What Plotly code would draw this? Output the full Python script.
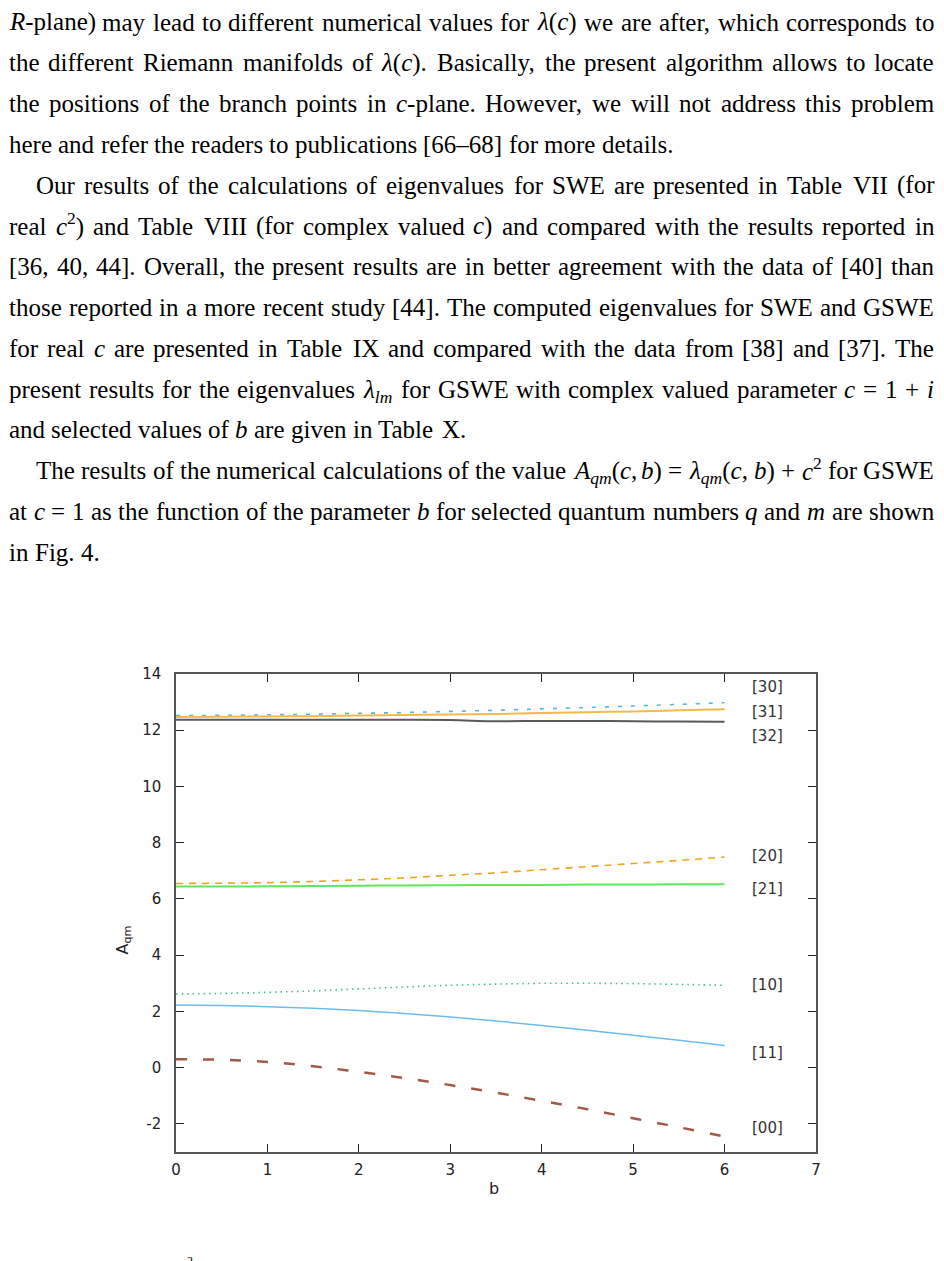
import re
import plotly.graph_objects as go

# ---------------- data ----------------
b = [0, 0.5, 1, 1.5, 2, 2.5, 3, 3.5, 4, 4.5, 5, 5.5, 6]
a30 = [12.52, 12.53, 12.55, 12.57, 12.60, 12.63, 12.67, 12.71, 12.76, 12.81, 12.86, 12.92, 12.98]
a31 = [12.47, 12.48, 12.49, 12.50, 12.52, 12.54, 12.56, 12.58, 12.61, 12.64, 12.67, 12.71, 12.75]
a32 = [12.37, 12.37, 12.37, 12.37, 12.37, 12.37, 12.36, 12.32, 12.33, 12.33, 12.32, 12.31, 12.30]
a20 = [6.55, 6.56, 6.58, 6.62, 6.68, 6.75, 6.84, 6.93, 7.04, 7.15, 7.26, 7.37, 7.49]
a21 = [6.44, 6.44, 6.45, 6.46, 6.47, 6.48, 6.49, 6.50, 6.50, 6.51, 6.51, 6.52, 6.52]
a10 = [2.62, 2.64, 2.68, 2.73, 2.80, 2.87, 2.93, 2.97, 3.00, 3.00, 2.99, 2.96, 2.93]
a11 = [2.23, 2.21, 2.17, 2.11, 2.03, 1.93, 1.80, 1.66, 1.50, 1.33, 1.15, 0.97, 0.79]
a00 = [0.30, 0.28, 0.20, 0.05, -0.15, -0.37, -0.62, -0.89, -1.18, -1.48, -1.80, -2.12, -2.45]

curve_labels = ["[30]", "[31]", "[32]", "[20]", "[21]", "[10]", "[11]", "[00]"]
label_y = [13.55, 12.65, 11.8, 7.53, 6.36, 2.95, 0.53, -2.16]

x_ticks = [0, 1, 2, 3, 4, 5, 6, 7]
y_ticks = [-2, 0, 2, 4, 6, 8, 10, 12, 14]
y_ticktext = ["-2", "0", "2", "4", "6", "8", "10", "12", "14"]

text_lines = [
    "<i>R</i>-plane) may lead to different numerical values for <i>λ</i>(<i>c</i>) we are after, which corresponds to",
    "the different Riemann manifolds of <i>λ</i>(<i>c</i>). Basically, the present algorithm allows to locate",
    "the positions of the branch points in <i>c</i>-plane. However, we will not address this problem",
    "here and refer the readers to publications [66–68] for more details.",
    "Our results of the calculations of eigenvalues for SWE are presented in Table VII (for",
    "real <i>c</i><sup>2</sup>) and Table VIII (for complex valued <i>c</i>) and compared with the results reported in",
    "[36, 40, 44]. Overall, the present results are in better agreement with the data of [40] than",
    "those reported in a more recent study [44]. The computed eigenvalues for SWE and GSWE",
    "for real <i>c</i> are presented in Table IX and compared with the data from [38] and [37]. The",
    "present results for the eigenvalues <i>λ<sub>lm</sub></i> for GSWE with complex valued parameter <i>c</i> = 1 + <i>i</i>",
    "and selected values of <i>b</i> are given in Table X.",
    "The results of the numerical calculations of the value <i>A<sub>qm</sub></i>(<i>c</i>, <i>b</i>) = <i>λ<sub>qm</sub></i>(<i>c</i>, <i>b</i>) + <i>c</i><sup>2</sup> for GSWE",
    "at <i>c</i> = 1 as the function of the parameter <i>b</i> for selected quantum numbers <i>q</i> and <i>m</i> are shown",
    "in Fig. 4.",
]
indented = {4, 11}
ragged = {3, 10, 13}  # last lines of paragraphs

# ---------------- layout geometry ----------------
FW, FH = 944, 1261
L, R, T, B = 176, 816, 674, 1152
PW, PH = R - L, B - T
TXT_L, TXT_IND, TXT_R = 8, 35, 933
FS = 25


def px(x):
    return (x - L) / PW


def py(y):
    return (B - y) / PH


# Times / Liberation Serif advance widths (1/1000 em)
W_REG = {' ': 250, '!': 333, '(': 333, ')': 333, '+': 564, ',': 250, '-': 333, '.': 250,
         '=': 564, '[': 333, ']': 333, '–': 500, ':': 278, ';': 278, 'λ': 550,
         'A': 722, 'B': 667, 'C': 667, 'D': 722, 'E': 611, 'F': 556, 'G': 722, 'H': 722,
         'I': 333, 'J': 389, 'K': 722, 'L': 611, 'M': 889, 'N': 722, 'O': 722, 'P': 556,
         'Q': 722, 'R': 667, 'S': 556, 'T': 611, 'U': 722, 'V': 722, 'W': 944, 'X': 722,
         'Y': 722, 'Z': 611,
         'a': 444, 'b': 500, 'c': 444, 'd': 500, 'e': 444, 'f': 333, 'g': 500, 'h': 500,
         'i': 278, 'j': 278, 'k': 500, 'l': 278, 'm': 778, 'n': 500, 'o': 500, 'p': 500,
         'q': 500, 'r': 333, 's': 389, 't': 278, 'u': 500, 'v': 500, 'w': 722, 'x': 500,
         'y': 500, 'z': 444}
W_IT = {'A': 611, 'R': 611, 'a': 500, 'b': 500, 'c': 444, 'i': 278, 'l': 278, 'm': 722,
        'q': 500, 'λ': 500}


def word_width(word):
    total = 0.0
    scale = 1.0
    italic = False
    for tok in re.split(r'(<[^>]+>)', word):
        if not tok:
            continue
        if tok.startswith('<'):
            t = tok.strip('<>/')
            closing = tok.startswith('</')
            if t in ('sub', 'sup'):
                scale = 1.0 if closing else 0.7
            elif t == 'i':
                italic = not closing
            continue
        for ch in tok:
            w = W_IT.get(ch) if italic else None
            if w is None:
                w = W_REG.get(ch, 500 if ch.isdigit() else 480)
            total += w * scale
    return total / 1000 * FS


fig = go.Figure()

series = [
    (a30, "#56b4e9", 1.6, "4px,9px"),
    (a31, "#f7b84a", 2.0, "solid"),
    (a32, "#5a5a5a", 2.0, "solid"),
    (a20, "#eca524", 1.6, "7px,6px"),
    (a21, "#5fe85f", 2.0, "solid"),
    (a10, "#3cbf9c", 1.6, "1.5px,4px"),
    (a11, "#6cbcec", 1.5, "solid"),
    (a00, "#a05a4a", 2.5, "11px,16px"),
]
for ys, col, w, dash in series:
    fig.add_trace(go.Scatter(x=b, y=ys, mode="lines",
                             line=dict(color=col, width=w, dash=dash, shape="spline"),
                             showlegend=False, hoverinfo="skip"))

ann = []
for lab, yv in zip(curve_labels, label_y):
    ann.append(dict(x=6.47, y=yv, xref="x", yref="y", text=lab, showarrow=False,
                    font=dict(family="DejaVu Sans", size=15, color="#333")))

# axis titles
ann.append(dict(x=px(494), y=py(1200), xref="paper", yref="paper", text="b", showarrow=False,
                font=dict(family="DejaVu Sans", size=16, color="#222")))
ann.append(dict(x=px(110), y=py(940), xref="paper", yref="paper", text="A<sub>qm</sub>",
                showarrow=False, textangle=-90,
                font=dict(family="DejaVu Sans", size=16, color="#222")))

# page text, justified word by word
y0, dy = 22, 40.8
space_w = 250 / 1000 * FS
for i, line in enumerate(text_lines):
    x_left = TXT_IND if i in indented else TXT_L
    words = line.split(" ")
    widths = [word_width(w) for w in words]
    if i in ragged or len(words) < 2:
        gap = space_w
    else:
        gap = (TXT_R - x_left - sum(widths)) / (len(words) - 1)
    x = x_left
    yc = y0 + i * dy
    for w, ww in zip(words, widths):
        adj = 0.0
        if '<sup>' in w:
            adj -= 0.075 * FS
        if '<sub>' in w:
            adj += 0.072 * FS
        ann.append(dict(x=px(x - 1), y=py(yc + adj), xref="paper", yref="paper", text=w,
                        showarrow=False, xanchor="left", yanchor="middle",
                        font=dict(family="Liberation Serif", size=FS, color="#000")))
        x += ww + gap

# caption fragment cut off at the bottom of the page
ann.append(dict(x=px(185), y=py(1270), xref="paper", yref="paper", text="2",
                showarrow=False, font=dict(family="Liberation Serif", size=12, color="#000")))

axis_common = dict(showgrid=False, zeroline=False, showline=True, linecolor="#555",
                   linewidth=1.5, ticks="inside", ticklen=8, tickcolor="#222", tickwidth=1,
                   mirror="allticks", tickfont=dict(family="DejaVu Sans", size=15, color="#222"))

fig.update_layout(
    width=FW, height=FH,
    margin=dict(l=L, r=FW - R, t=T, b=FH - B, pad=0),
    paper_bgcolor="white", plot_bgcolor="white",
    xaxis=dict(range=[0, 7], tickvals=x_ticks, ticklabelstandoff=3, **axis_common),
    yaxis=dict(range=[-3, 14], tickvals=y_ticks, ticktext=y_ticktext,
               ticklabelstandoff=10, **axis_common),
    annotations=ann,
)

fig.write_html("out.html")
